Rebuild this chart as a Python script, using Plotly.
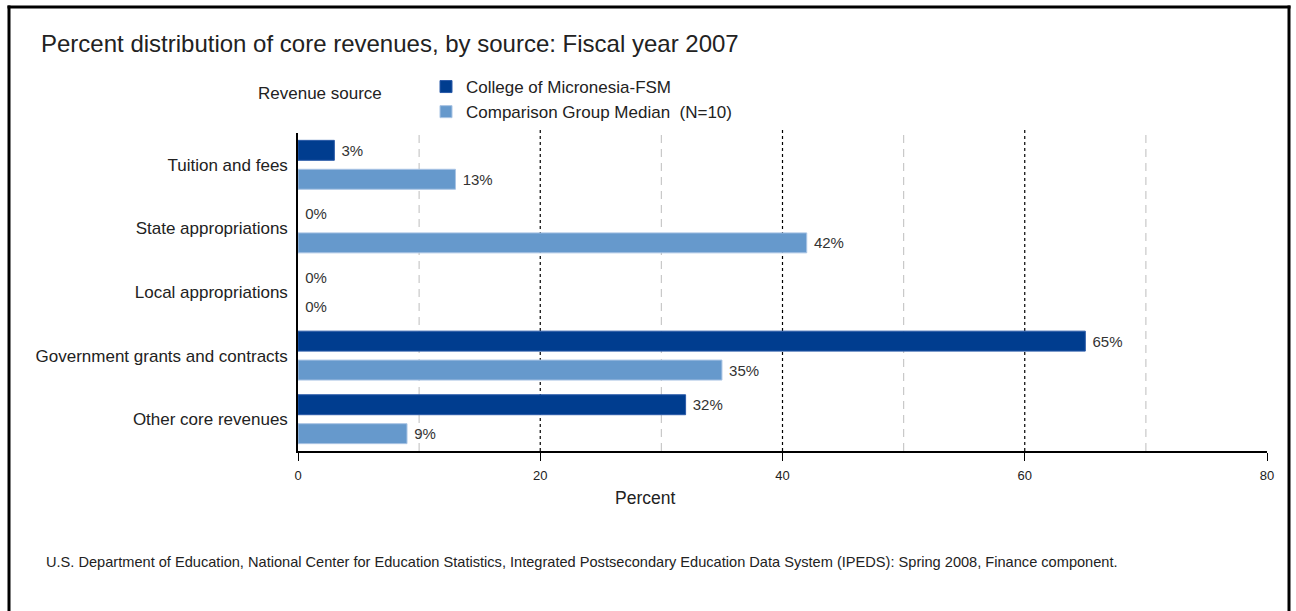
import plotly.graph_objects as go

categories = ["Tuition and fees", "State appropriations", "Local appropriations",
              "Government grants and contracts", "Other core revenues"]
college = [3, 0, 0, 65, 32]
comparison = [13, 42, 0, 35, 9]
series_names = ["College of Micronesia-FSM", "Comparison Group Median  (N=10)"]
x_ticks = [0, 20, 40, 60, 80]
dotted_grid = [20, 40, 60]
dashed_grid = [10, 30, 50, 70]

# body margin is removed by post_script, so page pixels == figure pixels
W, H = 1296, 611
PLOT_L, PLOT_R, PLOT_T, PLOT_B = 298, 1267, 133, 451
L, R, T, B = PLOT_L, W - PLOT_R, PLOT_T, H - PLOT_B
PW, PH = PLOT_R - PLOT_L, PLOT_B - PLOT_T


def px_x(p):
    return (p - PLOT_L) / PW


def px_y(p):
    return (PLOT_B - p) / PH


FONT = "Liberation Sans, Arial, sans-serif"
TXT = "#222222"

fig = go.Figure()
fig.add_trace(go.Bar(
    y=categories, x=college, orientation="h", name=series_names[0],
    marker=dict(color="#003d8f",
                line=dict(color="#2a5aa8", width=[1 if v > 0 else 0 for v in college])),
    text=[f" {v}%" for v in college], textposition="outside",
    textfont=dict(size=15, color="#333333", family=FONT), cliponaxis=False,
))
fig.add_trace(go.Bar(
    y=categories, x=comparison, orientation="h", name=series_names[1],
    marker=dict(color="#6699cc",
                line=dict(color="#a9c4e4", width=[1 if v > 0 else 0 for v in comparison])),
    text=[f" {v}%" for v in comparison], textposition="outside",
    textfont=dict(size=15, color="#333333", family=FONT), cliponaxis=False,
))

shapes = []
for g in dashed_grid:
    shapes.append(dict(type="line", xref="x", yref="paper", x0=g, x1=g, y0=0, y1=px_y(130),
                       line=dict(color="#c8c8c8", width=1.2, dash="8px,6px"), layer="below"))
for g in dotted_grid:
    shapes.append(dict(type="line", xref="x", yref="paper", x0=g, x1=g, y0=0, y1=px_y(130),
                       line=dict(color="#000000", width=1.2, dash="3px,3px"), layer="below"))
# frame around the figure
shapes.append(dict(type="line", xref="paper", yref="paper", x0=px_x(9), x1=px_x(9),
                   y0=px_y(5.5), y1=px_y(640), line=dict(color="black", width=3)))
shapes.append(dict(type="line", xref="paper", yref="paper", x0=px_x(1289), x1=px_x(1289),
                   y0=px_y(5.5), y1=px_y(640), line=dict(color="black", width=3)))
shapes.append(dict(type="line", xref="paper", yref="paper", x0=px_x(7.5), x1=px_x(1290.5),
                   y0=px_y(7), y1=px_y(7), line=dict(color="black", width=3)))

annotations = [
    dict(text="Percent distribution of core revenues, by source: Fiscal year 2007",
         xref="paper", yref="paper", x=px_x(39), y=px_y(44), xanchor="left", yanchor="middle",
         showarrow=False, font=dict(size=24, color=TXT, family=FONT)),
    dict(text="Revenue source", xref="paper", yref="paper", x=px_x(320), y=px_y(94),
         xanchor="center", yanchor="middle", showarrow=False,
         font=dict(size=17, color=TXT, family=FONT)),
    dict(text="Percent", xref="paper", yref="paper", x=px_x(645), y=px_y(498),
         xanchor="center", yanchor="middle", showarrow=False,
         font=dict(size=17.5, color=TXT, family=FONT)),
    dict(text="U.S. Department of Education, National Center for Education Statistics, "
              "Integrated Postsecondary Education Data System (IPEDS): Spring 2008, Finance component.",
         xref="paper", yref="paper", x=px_x(44), y=px_y(562), xanchor="left", yanchor="middle",
         showarrow=False, font=dict(size=14.6, color=TXT, family=FONT)),
]

fig.update_layout(
    width=W, height=H,
    margin=dict(l=L, r=R, t=T, b=B, pad=0),
    paper_bgcolor="white", plot_bgcolor="white",
    barmode="group", bargap=0.09, bargroupgap=0.31,
    font=dict(family=FONT, color=TXT),
    showlegend=True,
    legend=dict(x=px_x(426), y=px_y(69), xanchor="left", yanchor="top",
                font=dict(size=17, color=TXT, family=FONT),
                bgcolor="rgba(0,0,0,0)", tracegroupgap=0, itemwidth=30),
    shapes=shapes, annotations=annotations,
    xaxis=dict(range=[0, 80], tickvals=x_ticks, ticktext=[str(v) for v in x_ticks],
               showgrid=False, zeroline=False, showline=True, linecolor="black", linewidth=1.5,
               ticks="outside", ticklen=8, tickcolor="black", tickwidth=1, ticklabelstandoff=4,
               tickfont=dict(size=13, color=TXT, family=FONT)),
    yaxis=dict(autorange="reversed", showgrid=False, zeroline=False, showline=True,
               linecolor="black", linewidth=1.5, ticks="", ticklabelstandoff=5,
               tickfont=dict(size=17, color=TXT, family=FONT)),
)

fig.write_html(
    "out.html",
    config={"displayModeBar": False},
    post_script="document.body.style.margin='0';document.body.style.overflow='hidden';",
)
